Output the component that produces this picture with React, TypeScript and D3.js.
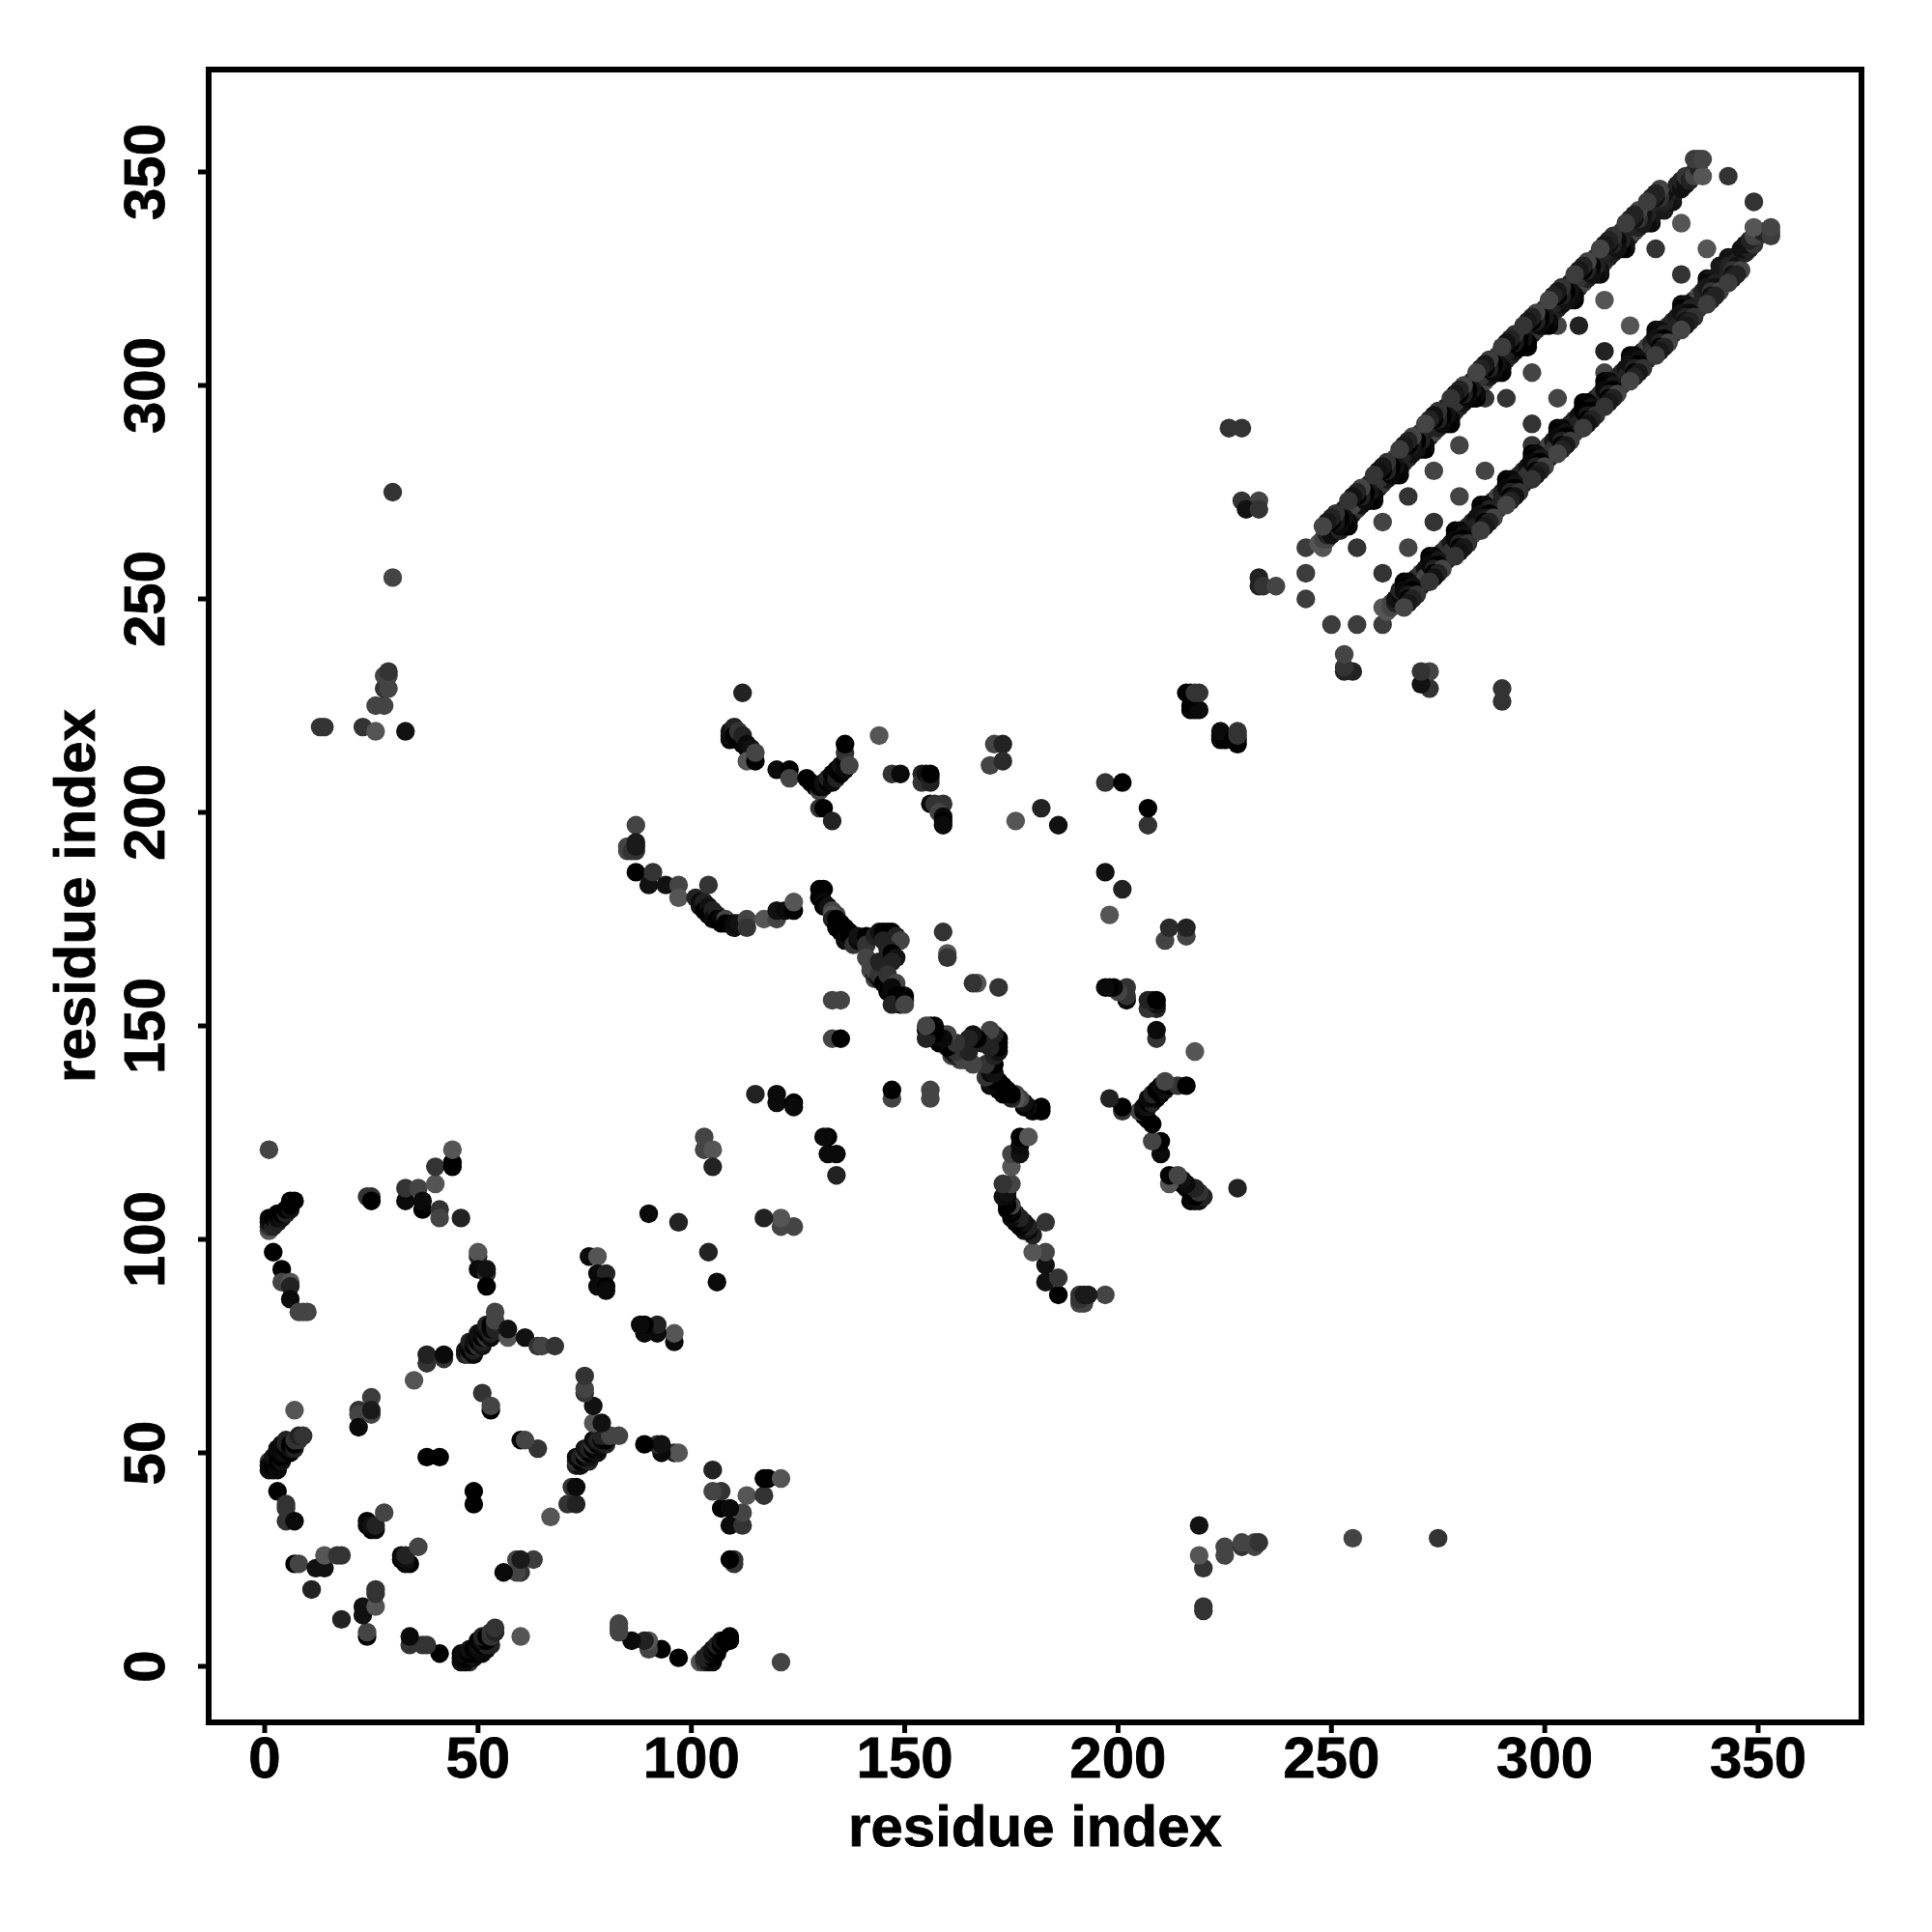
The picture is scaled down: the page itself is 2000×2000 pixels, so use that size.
import React from "react";
import * as d3 from "d3";

// Each contact is [residue i, residue j, grey level]; the map is symmetric, so (j, i) is drawn too.
type Contact = [number, number, number];

const helixOneContacts: Contact[] = [
  [7,60,85],[1,48,51],[1,46,17],[1,47,10],[2,46,10],[2,47,0],[2,49,17],[3,46,10],[3,48,0],[3,50,0],[3,51,10],[4,48,17],[4,49,0],[4,50,10],[4,52,10],[5,50,17],[5,51,0],[5,52,34],[5,53,34],[6,50,0],[6,51,17],[6,52,0],[7,51,34],[7,52,0],[7,53,51],[8,53,51],[8,54,34],[9,54,51],
  [3,41,0],[5,38,51],[5,37,51],[5,34,51],[7,34,10],[7,24,0],[8,24,68],[11,18,34],[12,23,17],[14,23,17],[14,26,85],[17,26,51],[18,26,51],
  [22,60,51],[22,59,68],[22,56,10],[25,63,60],[25,59,68],[25,60,26],[38,49,0],[41,49,0],[51,64,51],[53,60,0],[53,61,68],
  [24,34,0],[24,33,10],[25,32,0],[25,33,17],[26,32,10],[26,33,34],[28,36,68],
  [47,73,34],[47,74,17],[48,73,51],[48,74,0],[48,75,10],[48,76,34],[49,73,10],[49,74,34],[49,75,0],[49,76,17],[50,75,51],[50,76,0],[50,77,10],[50,78,17],[51,75,17],[51,76,34],[51,77,0],[51,78,10],[52,77,51],[52,78,0],[52,79,17],[52,80,34],[53,77,10],[53,78,34],[53,79,10],[53,80,0],[54,79,34],[54,80,34],[54,81,68],[54,83,68],[57,77,85],[57,79,17],[61,77,17],[64,75,51],[65,75,68],[68,75,51],[35,67,85],[38,71,51],[38,73,34],[42,72,51],[42,73,10],
];

const crossContacts: Contact[] = [
  [1,121,68],[1,102,85],[1,103,51],[1,104,17],[1,105,10],[2,103,34],[2,105,0],[3,104,34],[3,105,10],[3,106,0],[4,105,17],[4,106,0],[5,106,34],[5,107,0],[6,107,17],[6,108,0],[6,109,0],[7,109,0],
  [2,97,0],[4,93,0],[4,90,68],[6,90,85],[6,89,34],[6,86,10],[8,83,68],[9,83,68],[10,83,68],
  [24,110,51],[25,110,51],[25,109,0],[33,109,10],[33,112,51],[36,112,68],[37,107,0],[37,109,10],[40,113,85],[41,107,51],[41,105,68],[46,105,34],[40,117,51],[44,117,0],[44,118,0],[44,121,85],
  [50,96,34],[50,97,85],[50,93,10],[52,92,51],[52,93,17],[52,89,0],[76,96,10],[78,96,85],[78,92,10],[80,92,34],[78,89,10],[80,89,0],[80,88,10],
  [90,106,10],[97,104,34],[103,124,68],[103,121,68],[105,121,85],[105,117,34],
  [13,220,51],[14,220,51],[23,220,51],[26,219,85],[33,219,17],[26,225,68],[28,225,68],[28,229,51],[29,229,68],[28,232,68],[29,232,68],[29,233,51],[30,255,68],[30,275,51],
];

const middleContacts: Contact[] = [
  [112,228,34],[109,217,0],[109,218,10],[109,219,17],[110,220,34],[110,218,0],[111,217,0],[111,219,51],[112,216,0],[112,218,34],[113,215,0],[113,216,10],[114,214,0],[114,215,17],[113,212,85],[115,212,0],[115,214,68],
  [120,210,10],[123,210,0],[123,208,68],[127,208,0],[128,207,0],[129,206,0],[130,205,68],[130,206,0],[131,206,10],[131,207,17],[132,207,0],[132,208,34],[133,207,10],[133,209,0],[134,208,34],[134,210,0],[135,209,0],[135,211,17],[136,210,10],[136,212,0],[136,214,51],[137,211,68],[136,216,0],
  [130,201,51],[131,201,0],[133,198,34],[144,218,85],[147,209,51],[149,209,10],[154,209,34],[154,207,51],[155,209,17],[156,208,51],[156,207,34],[156,209,0],[156,202,10],[157,202,51],[159,202,51],[158,200,68],[159,199,10],[159,198,0],[159,197,10],
  [171,216,68],[173,216,34],[170,211,68],[173,212,42],[176,198,85],[182,201,34],[186,197,17],[197,207,51],[201,207,0],
  [87,197,68],[85,192,68],[85,191,68],[86,191,51],[87,191,51],[87,192,26],[87,193,26],[87,186,0],[90,183,17],[91,186,51],[94,183,17],[97,183,68],[97,180,85],[101,180,34],[102,179,10],[102,178,17],[103,179,34],[103,177,0],[104,183,51],[104,178,17],[104,176,0],[105,177,34],[105,175,10],[106,176,34],[106,175,0],[107,175,10],[107,174,0],[108,175,68],[108,174,0],[110,173,17],[110,174,10],[111,174,17],[113,175,68],[113,173,51],[117,175,85],[120,175,68],[120,177,17],[122,177,10],[124,177,0],[124,179,85],
  [130,182,0],[131,182,0],[130,180,0],[131,179,10],[131,178,0],[132,178,17],[133,177,68],[134,176,68],[133,176,85],[133,175,34],[134,175,0],[134,173,0],[135,174,0],[135,172,0],[136,173,0],[136,171,0],[136,170,10],[137,172,0],[137,170,17],[137,171,0],[138,170,0],[138,171,0],[138,169,51],[139,170,10],[139,171,17],[141,171,0],[141,169,51],[141,166,68],[142,165,68],[142,163,68],[143,161,68],[143,162,34],[143,163,68],[142,164,68],[144,161,17],[144,162,51],[144,165,34],[143,171,34],[144,172,17],[145,172,0],[146,172,0],[147,172,0],[148,171,34],[145,170,34],[149,170,68],
  [146,168,34],[147,167,0],[148,166,17],[147,165,34],[145,160,0],[146,160,0],[146,162,51],[148,159,51],[148,160,68],[146,158,0],[147,158,0],[147,159,10],[148,157,0],[149,157,0],[149,155,0],[147,155,34],[150,156,10],[150,157,0],[150,155,68],
  [115,134,34],[120,134,10],[120,132,10],[124,132,0],[124,131,10],[133,147,68],[135,147,0],[133,156,68],[135,156,68],[159,172,51],[160,167,85],[160,166,51],
];

const farContacts: Contact[] = [
  [217,224,0],[218,224,10],[217,225,0],[219,224,10],[217,227,0],[217,228,0],[216,228,0],[218,228,51],[219,228,51],
  [226,290,51],[229,290,51],[229,273,51],[233,273,68],[230,271,17],[233,271,51],[233,255,34],[233,253,34],[234,253,51],[237,253,68],
  [244,250,60],[244,256,60],[244,262,60],[256,262,51],[262,268,68],[268,274,51],[274,280,68],[280,286,68],[286,297,51],[291,297,51],[297,303,68],[303,314,68],[308,314,34],[314,320,85],[326,332,51],[332,338,85],[343,349,51],
];

const helixBandContacts: Contact[] = [
  [247,263,85],[248,262,85],[248,264,68],[249,264,68],[249,265,34],[250,265,17],[251,266,10],[252,266,34],
  [255,270,34],[254,269,17],[252,270,51],[256,271,51],[257,272,17],[253,271,34],[255,272,68],
  [254,267,0],[254,268,8],[253,267,0],[253,269,16],[252,267,10],[252,269,0],[251,268,24],[251,270,51],[250,268,0],[250,269,34],[249,268,24],[248,267,68],
  [261,276,34],[260,275,17],[258,276,68],[262,277,51],[263,278,24],[259,277,34],[261,278,51],
  [260,273,0],[260,274,10],[259,273,0],[259,275,24],[258,273,10],[258,275,0],[257,274,34],[257,276,68],[256,274,0],[256,275,34],[255,274,17],[254,273,51],
  [267,282,51],[266,281,34],[264,282,51],[268,283,34],[269,284,17],[265,283,68],[267,284,34],
  [266,279,0],[266,280,8],[265,279,0],[265,281,17],[264,279,8],[264,281,0],[263,280,34],[263,282,51],[262,280,0],[262,281,24],[261,280,17],[260,279,51],
  [273,288,34],[272,287,17],[270,288,51],[274,289,68],[275,290,34],[271,289,51],[273,290,34],
  [272,285,0],[272,286,10],[271,285,0],[271,287,34],[270,285,17],[270,287,0],[269,286,24],[269,288,68],[268,286,0],[268,287,34],[267,286,24],[266,285,60],
  [279,294,51],[278,293,24],[276,294,68],[280,295,34],[281,296,17],[277,295,34],[279,296,51],
  [278,291,0],[278,292,8],[277,291,0],[277,293,17],[276,291,10],[276,293,0],[275,292,34],[275,294,51],[274,292,0],[274,293,17],[273,292,34],[272,291,68],
  [285,300,34],[284,299,17],[282,300,51],[286,301,68],[287,302,24],[283,301,34],[285,302,51],
  [284,297,0],[284,298,10],[283,297,0],[283,299,24],[282,297,8],[282,299,0],[281,298,34],[281,300,68],[280,298,0],[280,299,34],[279,298,24],[278,297,51],
  [291,306,51],[290,305,17],[288,306,68],[292,307,34],[293,308,17],[289,307,51],[291,308,34],
  [290,303,0],[290,304,8],[289,303,0],[289,305,17],[288,303,10],[288,305,0],[287,304,34],[287,306,60],[286,304,0],[286,305,24],[285,304,34],[284,303,68],
  [297,312,34],[296,311,24],[294,312,51],[298,313,51],[299,314,17],[295,313,68],[297,314,34],
  [296,309,0],[296,310,0],[295,309,0],[295,311,17],[294,309,0],[294,311,0],[293,310,24],[293,312,51],[292,310,0],[292,311,34],[291,310,17],[290,309,60],
  [302,317,51],[301,316,34],[299,317,68],[303,318,34],[304,319,17],[300,318,51],[302,319,34],
  [301,314,0],[301,315,10],[300,314,0],[300,316,24],[299,314,10],[299,316,0],[298,315,34],[298,317,68],[297,315,0],[297,316,34],[296,315,24],[295,314,51],
  [308,323,34],[307,322,24],[305,323,51],[309,324,68],[310,325,34],[306,324,34],[308,325,51],
  [307,320,0],[307,321,8],[306,320,10],[306,322,17],[305,320,17],[305,322,0],[304,321,34],[304,323,51],[303,321,0],[303,322,24],[302,321,34],[301,320,68],
  [314,329,51],[313,328,34],[311,329,68],[315,330,34],[316,331,24],[312,330,51],[314,331,34],
  [313,326,10],[313,327,17],[312,326,10],[312,328,34],[311,326,17],[311,328,0],[310,327,34],[310,329,68],[309,327,0],[309,328,34],[308,327,24],[307,326,60],
  [320,335,34],[319,334,24],[317,335,51],[321,336,68],[322,337,34],[318,336,51],[320,337,34],
  [319,332,10],[319,333,17],[318,332,0],[318,334,34],[317,332,17],[317,334,10],[316,333,34],[316,335,51],[315,333,17],[315,334,34],[314,333,24],[313,332,68],
  [326,341,51],[325,340,34],[323,341,68],[327,342,34],[328,341,24],[324,342,51],[326,343,34],
  [325,338,10],[325,339,24],[324,338,10],[324,340,34],[323,338,24],[323,340,17],[322,339,51],[322,341,68],[321,339,17],[321,340,34],[320,339,34],[319,338,60],
  [330,343,17],[330,344,24],[329,343,17],[329,345,34],[328,343,34],[328,345,17],[327,344,51],[327,346,68],[326,344,17],[326,345,34],[325,344,34],[324,343,60],
  [331,347,34],[332,346,17],[332,348,34],[333,347,17],[333,349,51],[334,348,34],[335,350,51],[335,349,68],[336,351,34],[337,349,85],[335,353,60],[336,353,60],[337,353,68],
];

const xTicks = [0, 50, 100, 150, 200, 250, 300, 350];
const yTicks = [0, 50, 100, 150, 200, 250, 300, 350];
const axisTitle = "residue index";

const contacts: Contact[] = [
  ...helixOneContacts,
  ...crossContacts,
  ...middleContacts,
  ...farContacts,
  ...helixBandContacts,
];

export default function App() {
  const x = d3.scaleLinear().domain([0, 350]).range([274, 1820]);
  const y = d3.scaleLinear().domain([0, 350]).range([1725, 178]);
  const box = { left: 216, right: 1927, top: 72, bottom: 1783 };
  const textStyle = {
    fontFamily: "'Liberation Sans', Arial, sans-serif",
    fontWeight: "bold",
    fontSize: 60,
    stroke: "#000",
    strokeWidth: 0.8,
  } as const;
  const mirrored = contacts.flatMap(([i, j, g]) => [
    { a: i, b: j, g },
    { a: j, b: i, g },
  ]);
  return (
    <svg
      width={2000}
      height={2000}
      style={{ position: "absolute", left: 0, top: 0, background: "#fff" }}
    >
      {mirrored.map((p, k) => (
        <circle
          key={k}
          cx={x(p.a)}
          cy={y(p.b)}
          r={9.7}
          fill={d3.rgb(p.g, p.g, p.g).formatHex()}
        />
      ))}
      <rect
        x={box.left}
        y={box.top}
        width={box.right - box.left}
        height={box.bottom - box.top}
        fill="none"
        stroke="#000"
        strokeWidth={6}
      />
      {xTicks.map((t) => (
        <g key={t}>
          <line x1={x(t)} x2={x(t)} y1={box.bottom} y2={box.bottom + 11} stroke="#000" strokeWidth={5} />
          <text x={x(t)} y={1840} textAnchor="middle" {...textStyle}>
            {t}
          </text>
        </g>
      ))}
      {yTicks.map((t) => (
        <g key={t}>
          <line x1={box.left - 11} x2={box.left} y1={y(t)} y2={y(t)} stroke="#000" strokeWidth={5} />
          <text transform={`translate(170,${y(t)}) rotate(-90)`} textAnchor="middle" {...textStyle}>
            {t}
          </text>
        </g>
      ))}
      <text x={(box.left + box.right) / 2} y={1911} textAnchor="middle" {...textStyle}>
        {axisTitle}
      </text>
      <text
        transform={`translate(98,${(box.top + box.bottom) / 2}) rotate(-90)`}
        textAnchor="middle"
        {...textStyle}
      >
        {axisTitle}
      </text>
    </svg>
  );
}
